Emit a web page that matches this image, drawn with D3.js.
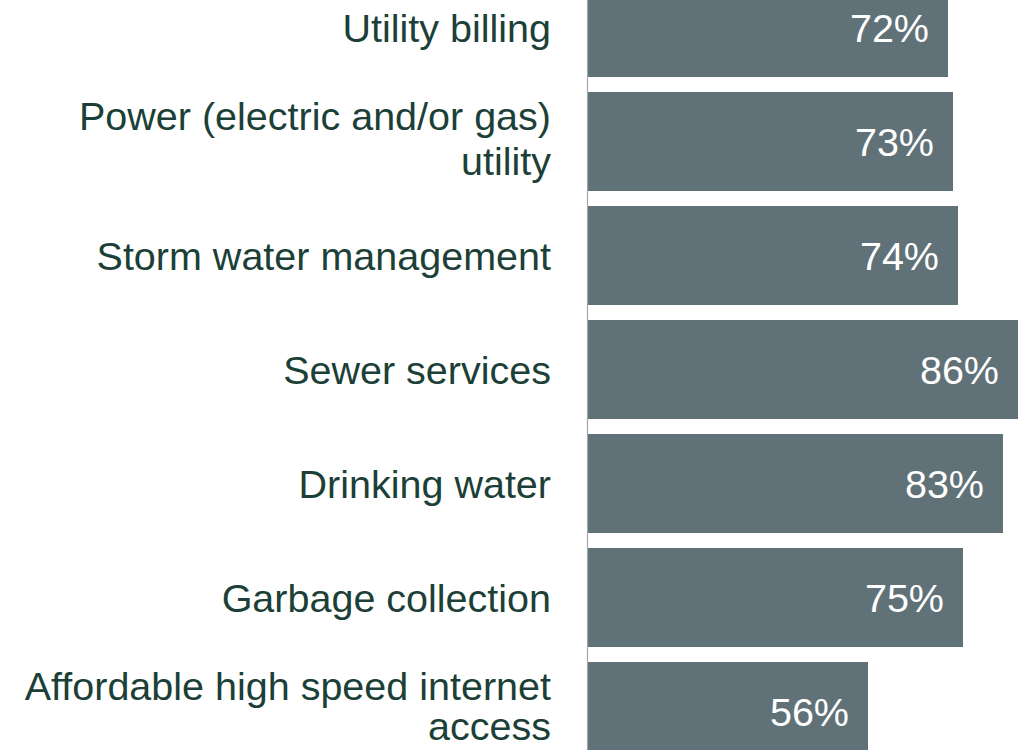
<!DOCTYPE html>
<html>
<head>
<meta charset="utf-8">
<script src="https://cdn.jsdelivr.net/npm/d3@7"></script>
<style>
  html, body { margin: 0; padding: 0; background: #ffffff; overflow: hidden; }
  svg { display: block; }
</style>
</head>
<body>
<div id="chart"></div>
<script>
// Share of respondents per service, top to bottom
const categories = [
  ["Utility billing"],
  ["Power (electric and/or gas)", "utility"],
  ["Storm water management"],
  ["Sewer services"],
  ["Drinking water"],
  ["Garbage collection"],
  ["Affordable high speed internet", "access"]
];
const values = [72, 73, 74, 86, 83, 75, 56];

const W = 1025, H = 750;
const barColor = "#607278";
const labelColor = "#1c3f37";
const fontFamily = "'Liberation Sans', Arial, Helvetica, sans-serif";
const fontSize = 39.5;

const svg = d3.select("#chart").append("svg")
  .attr("width", W).attr("height", H);

const keys = categories.map(c => c.join(" "));

const x = d3.scaleLinear().domain([0, 100]).range([588, 1088]);
const y = d3.scaleBand()
  .domain(keys)
  .range([-29.5, 768.5])
  .paddingInner(15 / 114)
  .paddingOuter(7.5 / 114);

// bars
svg.append("g").selectAll("rect")
  .data(values)
  .join("rect")
  .attr("x", x(0))
  .attr("y", (d, i) => y(keys[i]))
  .attr("width", d => x(d) - x(0))
  .attr("height", y.bandwidth())
  .attr("fill", barColor);

// category axis line
svg.append("line")
  .attr("x1", x(0) - 0.5).attr("x2", x(0) - 0.5)
  .attr("y1", 0).attr("y2", H)
  .attr("stroke", "#a6a6a6")
  .attr("stroke-width", 1.2);

// value labels inside the bar ends
svg.append("g").selectAll("text")
  .data(values)
  .join("text")
  .attr("x", d => x(d) - 19)
  .attr("y", (d, i) => y(keys[i]) + y.bandwidth() / 2 + 14)
  .attr("text-anchor", "end")
  .attr("fill", "#ffffff")
  .attr("font-family", fontFamily)
  .attr("font-size", fontSize)
  .text(d => d + "%");

// category labels, right-aligned beside the axis
const lab = svg.append("g").selectAll("text")
  .data(categories)
  .join("text")
  .attr("text-anchor", "end")
  .attr("fill", labelColor)
  .attr("font-family", fontFamily)
  .attr("font-size", fontSize);

lab.each(function(lines, i) {
  const c = y(keys[i]) + y.bandwidth() / 2;
  const n = lines.length;
  let lh = 45;
  let first = c + 14 - (n - 1) * 25.5;
  if (first + (n - 1) * lh > H - 10 && n > 1) lh = (H - 10 - first) / (n - 1);
  d3.select(this).selectAll("tspan")
    .data(lines)
    .join("tspan")
    .attr("x", 551)
    .attr("y", (d, j) => first + j * lh)
    .text(d => d);
});
</script>
</body>
</html>
